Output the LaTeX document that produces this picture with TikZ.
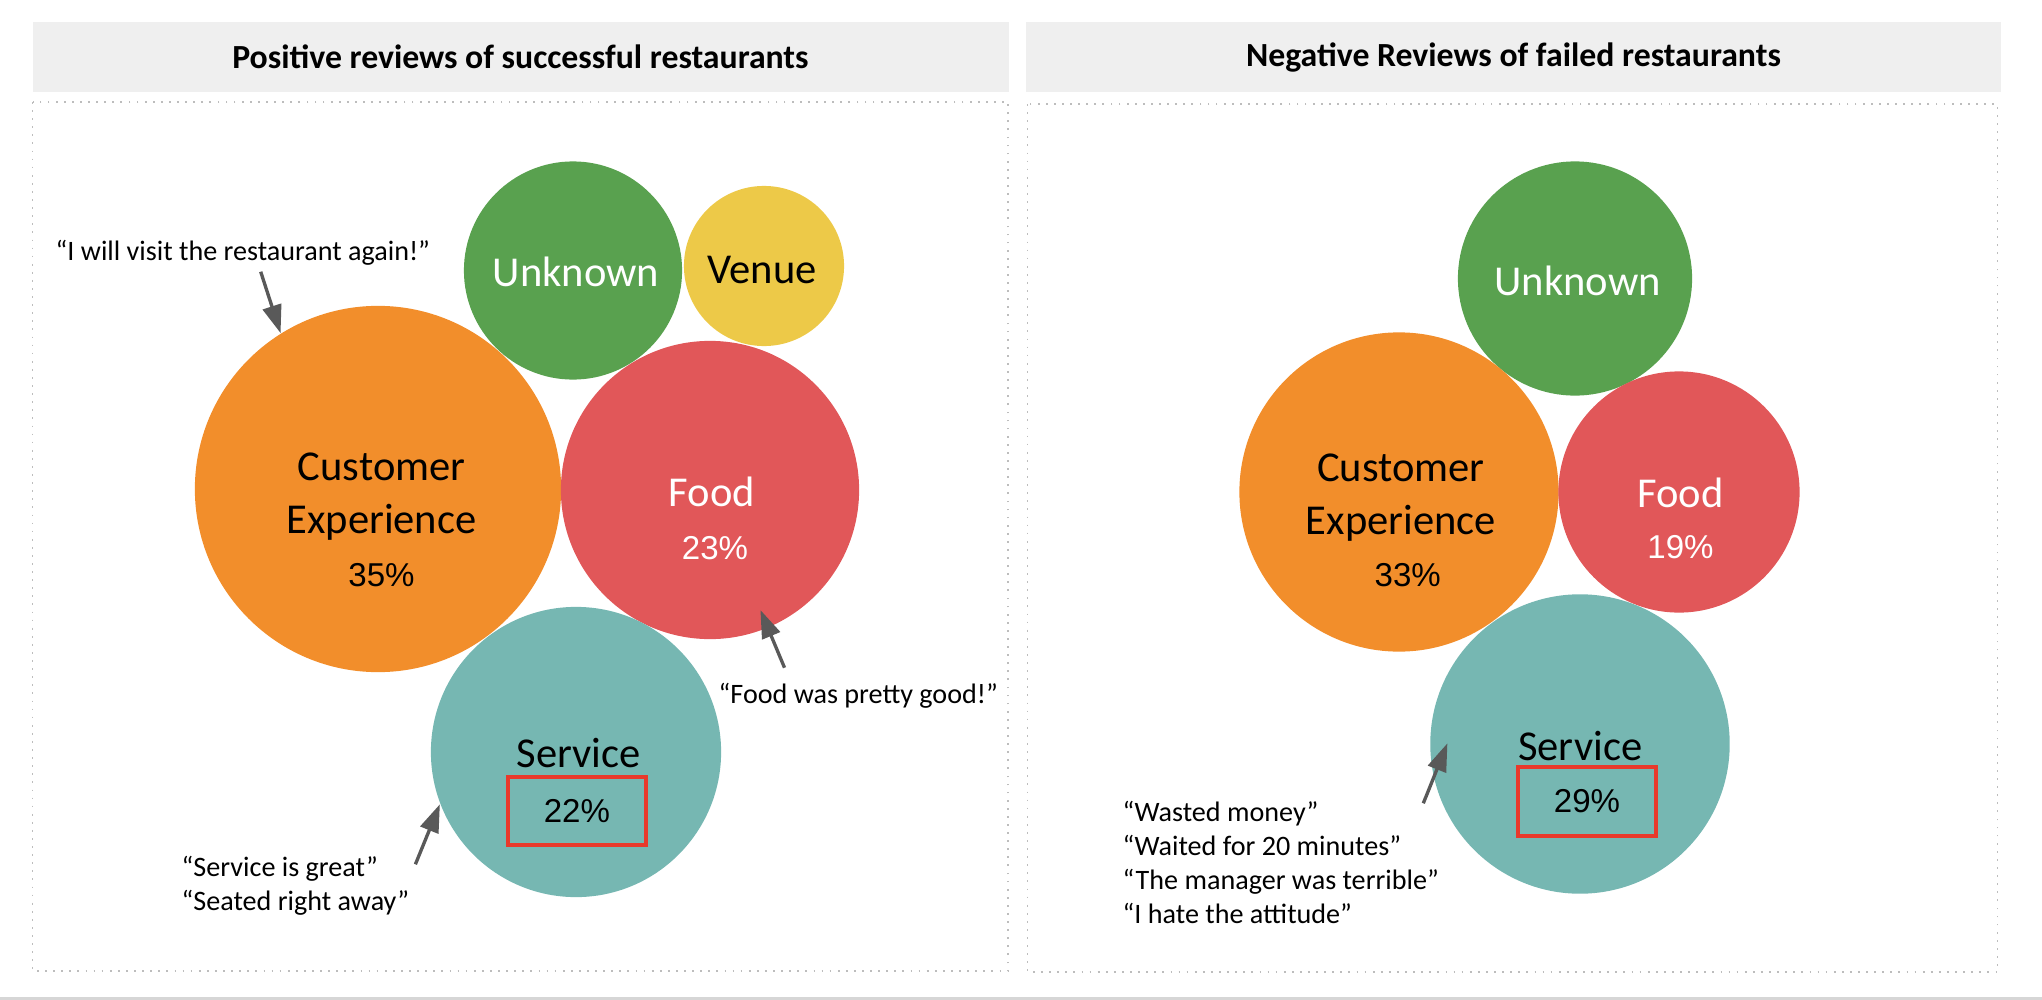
\documentclass[tikz,border=0pt]{standalone}
\usepackage{fontspec}
\setmainfont{Carlito}
\newfontfamily\pctfont{Liberation Sans}
\usetikzlibrary{arrows.meta}

\definecolor{bubOrange}{HTML}{F28E2B}
\definecolor{bubRed}{HTML}{E15759}
\definecolor{bubTeal}{HTML}{76B7B2}
\definecolor{bubGreen}{HTML}{59A14F}
\definecolor{bubYellow}{HTML}{EDC948}
\definecolor{headgray}{HTML}{EFEFEF}
\definecolor{dotgray}{HTML}{BDBDBD}
\definecolor{stripgray}{HTML}{D6D6D6}
\definecolor{arrowgray}{HTML}{595959}
\definecolor{boxred}{HTML}{E8392B}

\tikzset{
  bubble/.style={circle, inner sep=0pt, draw=none, minimum size=#1*0.02cm},
  title/.style={inner sep=0pt, font=\bfseries\fontsize{9.6}{11}\selectfont},
  lbl/.style={anchor=base, inner sep=0pt, font=\fontsize{12.1}{14}\selectfont},
  pct/.style={anchor=base, inner sep=0pt, font=\pctfont\fontsize{9.4}{11}\selectfont},
  quote/.style={anchor=base west, inner sep=0pt, font=\fontsize{8}{9.6}\selectfont},
  ptr/.style={draw=arrowgray, line width=0.95pt, -{Triangle[length=2.8mm,width=1.9mm]}},
  hilite/.style={draw=boxred, line width=1.1pt, inner sep=0pt,
    minimum width=1.377cm, minimum height=0.683cm},
  panel/.style={draw=dotgray, line width=0.5pt, dash pattern=on 0.5pt off 1.8pt},
}

\begin{document}
\begin{tikzpicture}[x=0.01cm, y=-0.01cm]
  \useasboundingbox (0,0) rectangle (2042,1000);

  % headers and panels
  \fill[headgray] (32.5,22) rectangle (1009,92);
  \fill[headgray] (1026,22) rectangle (2001,92);
  \node[title] (posTitle) at (520.5,57) {Positive reviews of successful restaurants};
  \node[title] (negTitle) at (1513.5,57) {Negative Reviews of failed restaurants};
  \draw[panel] (32.5,102) rectangle (1008,971);
  \draw[panel] (1027.5,104) rectangle (1997.5,972);
  \fill[stripgray] (0,996.5) rectangle (2042,1000);

  % positive bubbles
  \node[bubble=109, fill=bubGreen]  (posUnk)  at (573,270.5) {};
  \node[bubble=80,  fill=bubYellow] (posVen)  at (764,266)   {};
  \node[bubble=183, fill=bubOrange] (posCE)   at (378,489)   {};
  \node[bubble=149, fill=bubRed]    (posFood) at (710,490)   {};
  \node[bubble=145, fill=bubTeal]   (posSvc)  at (576,752)   {};

  \node[lbl, white] (posUnkL) at (576,286) {Unknown};
  \node[lbl] (posVenL) at (762,283.3) {Venue};
  \node[lbl] (posCEL1) at (381.7,480) {Customer};
  \node[lbl] (posCEL2) at (381.5,533.3) {Experience};
  \node[pct] (posCEP) at (381.5,586.7) {35\%};
  \node[lbl, white] (posFoodL) at (712,506) {Food};
  \node[pct, white] (posFoodP) at (715,559) {23\%};
  \node[lbl] (posSvcL) at (578.8,767.7) {Service};
  \node[pct, hilite, anchor=center] (posSvcP) at (576.9,811.2) {22\%};

  % negative bubbles
  \node[bubble=117,   fill=bubGreen]  (negUnk)  at (1575,278.5) {};
  \node[bubble=159.5, fill=bubOrange] (negCE)   at (1399,492)   {};
  \node[bubble=120.5, fill=bubRed]    (negFood) at (1679,492)   {};
  \node[bubble=149.6, fill=bubTeal]   (negSvc)  at (1580,744)   {};

  \node[lbl, white] (negUnkL) at (1577.6,295) {Unknown};
  \node[lbl] (negCEL1) at (1400.9,481.7) {Customer};
  \node[lbl] (negCEL2) at (1400.9,534.3) {Experience};
  \node[pct] (negCEP) at (1407.7,586) {33\%};
  \node[lbl, white] (negFoodL) at (1680.5,507) {Food};
  \node[pct, white] (negFoodP) at (1680.5,558.3) {19\%};
  \node[lbl] (negSvcL) at (1580.2,760) {Service};
  \node[pct, hilite, anchor=center] (negSvcP) at (1587,801.4) {29\%};

  % quotes
  \node[quote] (posQ1) at (55,260) {“I will visit the restaurant again!”};
  \node[quote] (posQ2) at (718,703.3) {“Food was pretty good!”};
  \node[quote] (posQ3) at (181,876.7) {“Service is great”};
  \node[quote] (posQ4) at (181,910) {“Seated right away”};
  \foreach \q [count=\i] in {“Wasted money”, “Waited for 20 minutes”,
      “The manager was terrible”, “I hate the attitude”}
    \node[quote] (negQ\i) at (1122,821.7+33.9*\i-33.9) {\q};

  % pointers
  \coordinate (posQ1tail) at (260.7,271.7);
  \coordinate (posQ2tail) at (784.5,667.7);
  \coordinate (posQ2tip)  at (760.4,610);
  \coordinate (posQ3tail) at (415.4,864.3);
  \coordinate (negQtail)  at (1423.3,803.3);
  \coordinate (negQtip)   at (1447.4,743.3);
  \draw[ptr] (posQ1tail) -- (posCE.122);
  \draw[ptr] (posQ2tail) -- (posQ2tip);
  \draw[ptr] (posQ3tail) -- (posSvc.201);
  \draw[ptr] (negQtail) -- (negQtip);
\end{tikzpicture}
\end{document}
